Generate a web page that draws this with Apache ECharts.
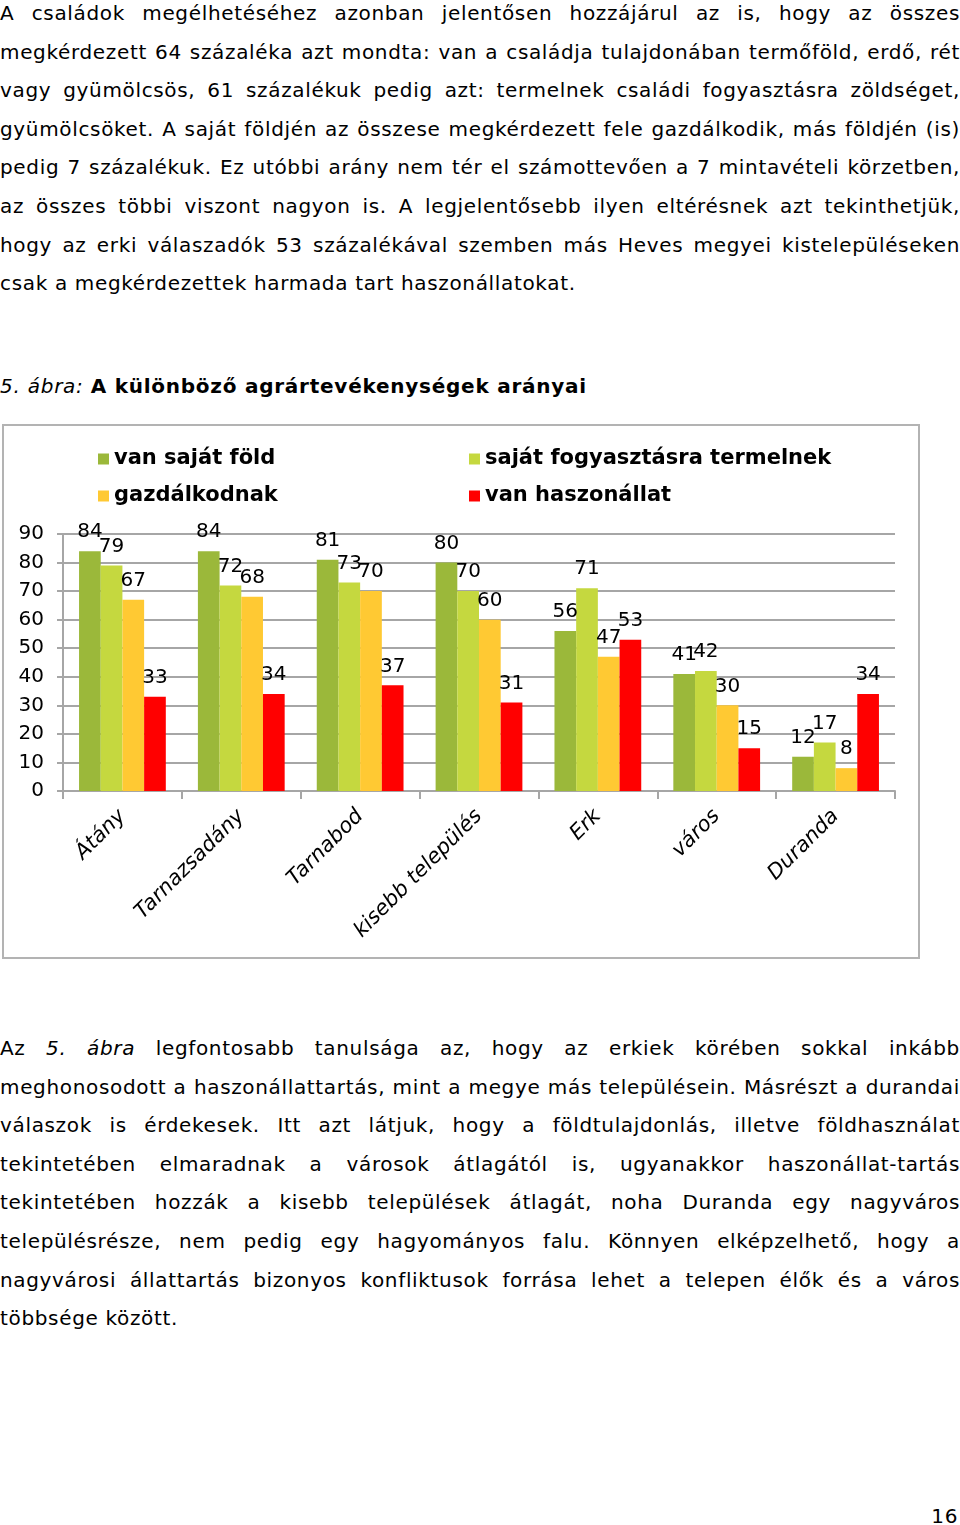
<!DOCTYPE html>
<html>
<head>
<meta charset="utf-8">
<script src="https://cdn.jsdelivr.net/npm/echarts@6/dist/echarts.min.js"></script>
<style>
  html, body { margin: 0; padding: 0; background: #fff; }
  body { width: 960px; height: 1525px; position: relative; overflow: hidden;
         font-family: "DejaVu Sans", Verdana, sans-serif; color: #000; }
  .para { position: absolute; left: 0; width: 960px; font-size: 20px; letter-spacing: 0.66px; }
  .line { height: 38.6px; line-height: 38.6px; white-space: nowrap;
          text-align: justify; text-align-last: justify; }
  .line.last { text-align-last: left; }
  #title { position: absolute; left: 0; top: 370px; font-size: 20px; line-height: 32px; white-space: nowrap; letter-spacing: 0.75px; }
  #chartBox { position: absolute; left: 2px; top: 424px; width: 914px; height: 531px;
              border: 2px solid #b3b3b3; background: #fff; }
  #chart { width: 914px; height: 531px; }
  #pageno { position: absolute; right: 2px; top: 1500px; font-size: 20px; line-height: 32px; letter-spacing: 0.6px; }
</style>
</head>
<body>
<div class="para" style="top:-6px">
  <div class="line">A családok megélhetéséhez azonban jelentősen hozzájárul az is, hogy az összes</div>
  <div class="line">megkérdezett 64 százaléka azt mondta: van a családja tulajdonában termőföld, erdő, rét</div>
  <div class="line">vagy gyümölcsös, 61 százalékuk pedig azt: termelnek családi fogyasztásra zöldséget,</div>
  <div class="line">gyümölcsöket. A saját földjén az összese megkérdezett fele gazdálkodik, más földjén (is)</div>
  <div class="line">pedig 7 százalékuk. Ez utóbbi arány nem tér el számottevően a 7 mintavételi körzetben,</div>
  <div class="line">az összes többi viszont nagyon is. A legjelentősebb ilyen eltérésnek azt tekinthetjük,</div>
  <div class="line">hogy az erki válaszadók 53 százalékával szemben más Heves megyei kistelepüléseken</div>
  <div class="line last">csak a megkérdezettek harmada tart haszonállatokat.</div>
</div>
<div id="title"><i>5. ábra:</i> <b>A különböző agrártevékenységek arányai</b></div>
<div id="chartBox"><div id="chart"></div></div>
<div class="para" style="top:1029px">
  <div class="line">Az <i>5. ábra</i> legfontosabb tanulsága az, hogy az erkiek körében sokkal inkább</div>
  <div class="line">meghonosodott a haszonállattartás, mint a megye más településein. Másrészt a durandai</div>
  <div class="line">válaszok is érdekesek. Itt azt látjuk, hogy a földtulajdonlás, illetve földhasználat</div>
  <div class="line">tekintetében elmaradnak a városok átlagától is, ugyanakkor haszonállat-tartás</div>
  <div class="line">tekintetében hozzák a kisebb települések átlagát, noha Duranda egy nagyváros</div>
  <div class="line">településrésze, nem pedig egy hagyományos falu. Könnyen elképzelhető, hogy a</div>
  <div class="line">nagyvárosi állattartás bizonyos konfliktusok forrása lehet a telepen élők és a város</div>
  <div class="line last">többsége között.</div>
</div>
<div id="pageno">16</div>
<script>
const categories = ['Átány', 'Tarnazsadány', 'Tarnabod', 'kisebb település', 'Erk', 'város', 'Duranda'];
const seriesNames = ['van saját föld', 'saját fogyasztásra termelnek', 'gazdálkodnak', 'van haszonállat'];
const vanSajatFold = [84, 84, 81, 80, 56, 41, 12];
const sajatFogyasztasra = [79, 72, 73, 70, 71, 42, 17];
const gazdalkodnak = [67, 68, 70, 60, 47, 30, 8];
const vanHaszonallat = [33, 34, 37, 31, 53, 15, 34];
const yTicks = [0, 10, 20, 30, 40, 50, 60, 70, 80, 90];
const colors = ['#9bb83a', '#c5d83f', '#ffc933', '#ff0000'];

const FONT = '"DejaVu Sans", Verdana, sans-serif';
const chart = echarts.init(document.getElementById('chart'), null, { renderer: 'canvas' });
const allValues = [vanSajatFold, sajatFogyasztasra, gazdalkodnak, vanHaszonallat];

const legendText = { fontFamily: FONT, fontSize: 21, fontWeight: 'bold', color: '#000', lineHeight: 22 };
chart.setOption({
  animation: false,
  color: colors,
  textStyle: { fontFamily: FONT },
  legend: [
    { orient: 'vertical', left: 89, top: 17, itemWidth: 11, itemHeight: 11, itemGap: 15,
      icon: 'rect', data: [seriesNames[0], seriesNames[2]], textStyle: legendText, selectedMode: false },
    { orient: 'vertical', left: 460, top: 17, itemWidth: 11, itemHeight: 11, itemGap: 15,
      icon: 'rect', data: [seriesNames[1], seriesNames[3]], textStyle: legendText, selectedMode: false }
  ],
  grid: { left: 59, right: 23, top: 108, bottom: 166, containLabel: false },
  xAxis: {
    type: 'category',
    data: categories,
    axisLine: { lineStyle: { color: '#a6a6a6', width: 2 } },
    axisTick: { show: true, length: 8, lineStyle: { color: '#a6a6a6', width: 2 } },
    axisLabel: { rotate: 45, interval: 0, margin: 22, fontFamily: FONT, fontSize: 21,
                 fontStyle: 'italic', color: '#000' }
  },
  yAxis: {
    type: 'value', min: 0, max: 90, interval: 10,
    axisLine: { show: true, lineStyle: { color: '#a6a6a6', width: 2 } },
    axisTick: { show: true, length: 6, lineStyle: { color: '#a6a6a6', width: 2 } },
    splitLine: { show: true, lineStyle: { color: '#a6a6a6', width: 2 } },
    axisLabel: { margin: 19, fontFamily: FONT, fontSize: 20, color: '#000',
                 formatter: v => yTicks.includes(v) ? String(v) : '' }
  },
  series: seriesNames.map((name, i) => ({
    name, type: 'bar', data: allValues[i],
    barGap: '0%', barCategoryGap: '27%',
    itemStyle: { color: colors[i] },
    label: { show: true, position: 'top', distance: 9, fontFamily: FONT, fontSize: 20, color: '#000' }
  }))
});
</script>
</body>
</html>
